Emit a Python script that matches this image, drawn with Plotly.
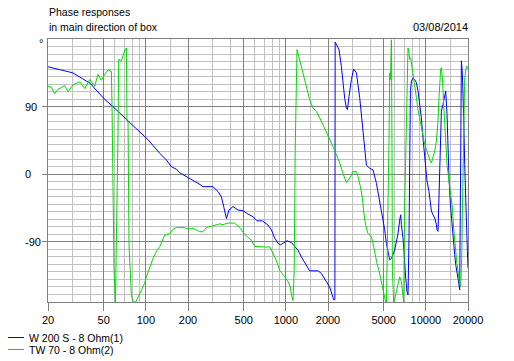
import math
import plotly.graph_objects as go

# ---------------- data ----------------
freq_w200 = [20, 30, 40, 50, 58.2, 100, 103.6, 125.6, 140.2, 152.2,
             165.3, 174.5, 194.8, 217.3, 235.8, 256, 301.8, 327.6, 346.4, 359.8,
             376.2, 392.6, 419.2, 455.2, 494.2, 536.6, 582.5, 622.2, 680, 745.4,
             788.4, 832.6, 879, 914.2, 954.2, 1019, 1096, 1157, 1221, 1291,
             1363, 1439, 1480, 1697, 1794, 1948, 2056, 2197, 2240, 2250,
             2320, 2396, 2492, 2560, 2632, 2706, 2752, 2826, 2938, 3052,
             3190, 3368, 3464, 3556, 3658, 3762, 3972, 4194, 4434, 4680,
             4814, 4942, 5082, 5226, 5518, 5676, 5990, 6324, 6504, 6612,
             6688, 6798, 6866, 6980, 7062, 7178, 7334, 7456, 7580, 7668,
             7758, 7884, 8094, 8324, 8558, 8788, 9038, 9292, 9542, 9812,
             9976, 10188, 10530, 10954, 11246, 11564, 11894, 12012, 12210, 12352,
             12558, 12704, 12914, 13258, 13634, 13860, 14158, 14392, 14632, 14972,
             15218, 15472, 15806, 16070, 16334, 16688, 16966, 17246, 17448, 17650,
             17826, 17944, 18240, 18422, 18636, 18944, 19260, 19482, 19802, 20000]
phase_w200 = [143, 135, 121, 101, 90, 48, 46, 28, 19, 10,
              6.7, 2, -3, -7.6, -12, -16.5, -16.5, -23, -30, -43,
              -59, -47.6, -43, -47.6, -48.5, -53, -56.5, -62, -62, -67.6,
              -74, -85, -92, -94, -92, -88.5, -91, -95.6, -101, -110,
              -118, -125, -128.5, -128.5, -132, -143, -150, -167, -167, 176,
              172, 166, 143.5, 117, 101, 88, 86, 103.5, 126, 140,
              135, 102, 81, 59, 35, 12, 8, 5.7, -12, -34,
              -47.6, -61, -74, -92, -114, -112, -101, -79, -61, -54,
              -67, -76, -85, -103, -125, -138, -156, -160.5, -85, 48,
              111, 124, 128, 126, 122, 111, 93, 75, 48, 22,
              4, -9, -23, -49, -54, -58, -67, -74, -76, -40,
              26, 57, 84, 93, 106, 111, 80, 35, -5, -40,
              -58, -76, -94, -107, -120, -129, -138, -147, -154, -40,
              93, 151, 133, 115, 75, 13, -40, -85, -103, -125]

freq_tw70 = [20, 21.1, 22.3, 23.6, 26.3, 27.8, 30.2, 33.7, 36.6, 39.7,
             43.1, 45.5, 48.1, 50.8, 53.7, 56.7, 57.3, 59.2, 60.6, 61.6,
             62.6, 63.2, 64.0, 66.9, 69.8, 72.6, 73.3, 74.6, 75.8, 77.0,
             78.8, 80.9, 84.6, 90.4, 98.1, 100.9, 109.5, 112.5, 120.1, 125.6,
             136.3, 148, 156.3, 165.3, 174.5, 189.4, 200, 217.3, 242.5, 256,
             270.7, 301.8, 336.8, 355.7, 386.2, 431.2, 468, 508.2, 567.4, 599,
             668.8, 733.4, 766.6, 788.4, 832.6, 879, 903.8, 981.2, 1036, 1078,
             1096, 1125, 1147, 1166, 1182, 1201, 1221, 1256, 1326, 1402,
             1480, 1563, 1653, 1745, 1842, 1948, 2056, 2172, 2296, 2424,
             2560, 2706, 2858, 3016, 3190, 3276, 3408, 3522, 3598, 3718,
             3862, 4084, 4194, 4312, 4478, 4628, 4814, 5082, 5226, 5454,
             5518, 5582, 5676, 5730, 5768, 5892, 6162, 6504, 6688, 6866,
             6946, 7062, 7178, 7262, 7334, 7456, 7542, 7668, 7794, 8014,
             8186, 8558, 8788, 9038, 9292, 9542, 9812, 10090, 10358, 10652,
             10954, 11246, 11564, 11894, 12210, 12414, 12558, 12766, 12914, 13128,
             13412, 13860, 14158, 14632, 14972, 15472, 15806, 16070, 16334, 16688,
             16966, 17448, 17740, 18032, 18240, 18422, 18636, 18944, 19482, 20000]
phase_tw70 = [117, 116, 107, 113, 118, 110, 119, 123, 114, 126,
              117, 133, 125, 133, 139, 137, 93, -125, -172, -94,
              -49, 48, 153, 151, 162, 168, 71, 70, -94, -129,
              -161, -170, -170, -159, -145, -136.5, -119, -112, -101, -96.5,
              -81, -79, -73, -71, -71, -71, -73, -72, -76.5, -76.5,
              -71, -69, -66, -67, -65, -65, -71, -80, -88, -96,
              -97, -97, -96.5, -101, -110, -121, -128, -136.5, -143, -150,
              -161, -168, -128, 32, 126, 166, 161, 152, 135, 115,
              99, 88, 83.5, 75, 66, 57, 46, 37, 26, 15,
              1, -11, -5, 3.5, 3.5, -3, -16.5, -32, -50, -68,
              -79, -83, -92, -105, -119, -128, -145, -168, -175, 46,
              135, 126, 179, 32, -128, -172, -154, -136.5, -143, -165,
              -170, -40, 35, 93, 137, 168, 164, 153, 155, 137,
              124, 102, 86, 73, 62, 48, 40, 33, 26, 19.5,
              15, 22, 31, 44, 71, 102, 124, 140, 142, 128,
              93, 48, 13, -9, -27, -45, -72, -89, -103, -120,
              -129, -147, -149, -112, -49, 4, 93, 128, 144, 140]

series_names = ["W 200 S - 8 Ohm(1)", "TW 70 - 8 Ohm(2)"]
series_colors = ["#0000FF", "#00DC00"]

x_tick_vals = [20, 50, 100, 200, 500, 1000, 2000, 5000, 10000, 20000]
x_tick_text = ["20", "50", "100", "200", "500", "1000", "2000", "5000", "10000", "20000"]
x_minor_vals = [30, 40, 60, 70, 80, 90, 150, 300, 400, 600, 700, 800, 900,
                1500, 3000, 4000, 6000, 7000, 8000, 9000, 15000]
y_tick_vals = [-90, 0, 90]
y_tick_text = ["-90", "0", "90"]
y_range = [-170, 180]
x_range = [20, 20000]

title_lines = ["Phase responses", "in main direction of box"]
date_text = "03/08/2014"
unit_text = "°"

# ---------------- figure ----------------
W, H = 514, 361
ML, MR, MT, MB = 48, 46, 39, 59
PW, PH = W - ML - MR, H - MT - MB

def px(xs):
    """window x (px) -> paper x"""
    return (xs - ML) / PW

def py(ys):
    """window y (px) -> paper y"""
    return (H - MB - ys) / PH

FONT = "Liberation Sans, Arial, sans-serif"
DARK = "#808080"
LIGHT = "#C0C0C0"

fig = go.Figure()
for f, p, name, col in [(freq_w200, phase_w200, series_names[0], series_colors[0]),
                        (freq_tw70, phase_tw70, series_names[1], series_colors[1])]:
    fig.add_trace(go.Scatter(x=f, y=p, mode="lines", name=name,
                             line=dict(color=col, width=1), showlegend=False,
                             hoverinfo="skip"))

fig.update_layout(
    width=W, height=H,
    margin=dict(l=ML, r=MR, t=MT, b=MB, pad=0),
    paper_bgcolor="white", plot_bgcolor="white",
    font=dict(family=FONT, size=11, color="black"),
    showlegend=False,
)
fig.update_xaxes(
    type="log", range=[math.log10(x_range[0]), math.log10(x_range[1])],
    tickmode="array", tickvals=x_tick_vals, ticktext=x_tick_text,
    ticks="outside", ticklen=8, tickwidth=1, tickcolor=DARK,
    tickfont=dict(family=FONT, size=11, color="black"),
    showgrid=True, gridcolor=DARK, gridwidth=1,
    showline=True, mirror=True, linecolor=DARK, linewidth=1,
    zeroline=False,
    minor=dict(tickmode="array", tickvals=x_minor_vals, showgrid=True,
               gridcolor=LIGHT, gridwidth=1, ticks=""),
)
fig.update_yaxes(
    range=y_range, tickmode="array", tickvals=y_tick_vals,
    ticks="outside", ticklen=5, tickwidth=1, tickcolor=DARK,
    showticklabels=False,
    showgrid=True, gridcolor=DARK, gridwidth=1,
    showline=True, mirror=True, linecolor=DARK, linewidth=1,
    zeroline=False,
    minor=dict(tickmode="linear", tick0=0, dtick=10, showgrid=True,
               gridcolor=LIGHT, gridwidth=1, ticks=""),
)

ann = []
for v, t in zip(y_tick_vals, y_tick_text):
    ann.append(dict(x=px(23), xref="paper", y=v, yref="y", text=t,
                    xanchor="left", yanchor="middle", showarrow=False,
                    font=dict(family=FONT, size=11, color="black")))
ann.append(dict(x=px(45), xref="paper", y=y_range[1], yref="y", text=unit_text,
                xanchor="right", yanchor="middle", yshift=-4, showarrow=False,
                font=dict(family=FONT, size=11, color="black")))
ann.append(dict(x=px(47), xref="paper", y=py(11.5), yref="paper", text=title_lines[0],
                xanchor="left", yanchor="middle", showarrow=False,
                font=dict(family=FONT, size=10.5, color="black")))
ann.append(dict(x=px(47), xref="paper", y=py(27.5), yref="paper", text=title_lines[1],
                xanchor="left", yanchor="middle", showarrow=False,
                font=dict(family=FONT, size=10.5, color="black")))
ann.append(dict(x=px(470), xref="paper", y=py(27.5), yref="paper", text=date_text,
                xanchor="right", yanchor="middle", showarrow=False,
                font=dict(family=FONT, size=11, color="black")))

shapes = []
for i, (name, col) in enumerate(zip(series_names, series_colors)):
    yl = 337.5 + 12 * i
    shapes.append(dict(type="line", xref="paper", yref="paper",
                       x0=px(8), x1=px(24), y0=py(yl), y1=py(yl),
                       line=dict(color=col, width=1)))
    ann.append(dict(x=px(26.5), xref="paper", y=py(yl), yref="paper", text=name,
                    xanchor="left", yanchor="middle", showarrow=False,
                    font=dict(family=FONT, size=10.5, color="black")))

fig.update_layout(annotations=ann, shapes=shapes)
# remove the default 8px page margin so the figure fills the window exactly
fig.write_html("out.html",
               config={"displayModeBar": False, "staticPlot": True},
               post_script="document.body.style.margin='0';"
                           "document.body.style.overflow='hidden';")
